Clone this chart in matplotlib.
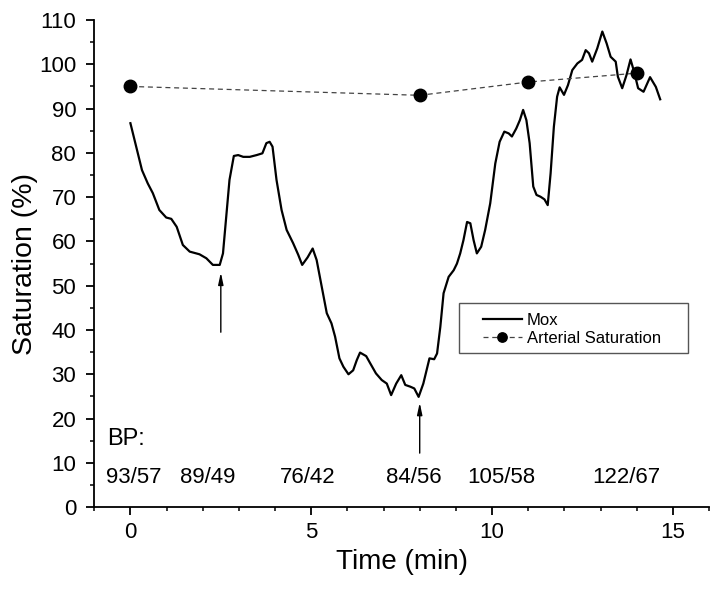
import matplotlib
matplotlib.use('Agg')
import matplotlib.pyplot as plt
from matplotlib.ticker import MultipleLocator
from matplotlib.patches import Rectangle

plt.rcParams['font.family'] = ['Liberation Sans', 'DejaVu Sans']

# Mox trace
mox_t = [0.00, 0.16, 0.32, 0.48, 0.62, 0.80, 0.99, 1.13, 1.28, 1.45, 1.64, 1.91, 2.10, 2.28, 2.47,
         2.56, 2.65, 2.74, 2.86, 2.98, 3.12, 3.30, 3.49, 3.65, 3.76, 3.85, 3.93, 4.04, 4.18, 4.32,
         4.50, 4.64, 4.75, 4.90, 5.04, 5.15, 5.29, 5.43, 5.56, 5.66, 5.78, 5.89, 6.03, 6.16, 6.26,
         6.35, 6.52, 6.63, 6.79, 6.95, 7.09, 7.21, 7.35, 7.49, 7.60, 7.74, 7.85, 7.97, 8.10, 8.27,
         8.40, 8.48, 8.57, 8.66, 8.80, 8.94, 9.03, 9.12, 9.21, 9.31, 9.40, 9.49, 9.58, 9.70, 9.81,
         9.95, 10.09, 10.21, 10.34, 10.46, 10.55, 10.67, 10.77, 10.86, 10.95, 11.04, 11.14, 11.23,
         11.34, 11.45, 11.54, 11.62, 11.71, 11.80, 11.87, 11.99, 12.10, 12.22, 12.36, 12.49, 12.59,
         12.68, 12.77, 12.91, 13.05, 13.17, 13.28, 13.42, 13.48, 13.60, 13.72, 13.83, 13.93, 14.04,
         14.19, 14.37, 14.53, 14.65]
mox_s = [86.7, 81.4, 76.1, 73.1, 70.9, 67.1, 65.4, 65.1, 63.3, 59.2, 57.7, 57.1, 56.2, 54.7, 54.7,
         57.3, 65.6, 73.9, 79.3, 79.5, 79.1, 79.1, 79.5, 79.9, 82.2, 82.5, 81.4, 73.9, 67.1, 62.6,
         59.6, 57.0, 54.7, 56.4, 58.4, 55.8, 49.8, 43.8, 41.5, 38.5, 33.6, 31.7, 30.0, 30.9, 33.2,
         34.9, 34.1, 32.5, 30.2, 28.7, 27.9, 25.3, 27.9, 29.8, 27.6, 27.2, 26.8, 24.9, 27.9, 33.6,
         33.4, 34.7, 40.7, 48.3, 52.0, 53.5, 55.0, 57.3, 60.3, 64.4, 64.1, 60.3, 57.3, 58.8, 62.6,
         68.6, 77.6, 82.5, 84.8, 84.4, 83.7, 85.5, 87.4, 89.7, 87.4, 82.2, 72.4, 70.5,
         70.1, 69.5, 68.2, 75.4, 85.9, 92.7, 94.8, 93.1, 95.3, 98.7, 100.2, 101.0, 103.2,
         102.5, 100.6, 103.6, 107.4, 104.7, 101.7, 100.6, 97.2, 94.6, 97.6, 101.1, 98.3, 94.6,
         93.8, 97.1, 94.9, 92.1]

# arterial saturation samples
art_t = [0, 8, 11, 14]
art_s = [95, 93, 96, 98]

# blood pressure annotations
bp_t = [0.10, 2.15, 4.90, 7.84, 10.27, 13.70]
bp_labels = ['93/57', '89/49', '76/42', '84/56', '105/58', '122/67']

# arrows: (time, tail, head)
arrow_t = [2.5, 8.0]
arrow_tail = [39.5, 12.2]
arrow_head = [53.0, 23.6]

fig = plt.figure(figsize=(7.14, 5.89), dpi=100)
ax = fig.add_axes([0.132, 0.139, 0.861, 0.827])

ax.plot(mox_t, mox_s, color='black', lw=1.6, label='Mox')
ax.plot(art_t, art_s, color='#444444', lw=0.9, ls=(0, (4, 3)), marker='o',
        markersize=9, markerfacecolor='black', markeredgecolor='black',
        label='Arterial Saturation')

for t, a, b in zip(arrow_t, arrow_tail, arrow_head):
    ax.annotate('', xy=(t, b), xytext=(t, a),
                arrowprops=dict(arrowstyle='-|>,head_length=0.7,head_width=0.15',
                                color='black', lw=1.0, shrinkA=0, shrinkB=0))

ax.text(-0.64, 14.0, 'BP:', fontsize=17, ha='left', va='baseline')
for t, lab in zip(bp_t, bp_labels):
    ax.text(t, 5.4, lab, fontsize=16, ha='center', va='baseline')

ax.set_xlim(-1, 16)
ax.set_ylim(0, 110)
ax.xaxis.set_major_locator(MultipleLocator(5))
ax.xaxis.set_minor_locator(MultipleLocator(1))
ax.yaxis.set_major_locator(MultipleLocator(10))
ax.yaxis.set_minor_locator(MultipleLocator(5))
ax.spines['top'].set_visible(False)
ax.spines['right'].set_visible(False)
for s in ['left', 'bottom']:
    ax.spines[s].set_linewidth(1.3)
ax.tick_params(which='major', length=6, width=1.3, labelsize=16)
ax.tick_params(which='minor', length=3, width=1.1)
ax.tick_params(axis='x', pad=5)
ax.tick_params(axis='y', pad=7)

ax.set_xlabel('Time (min)', fontsize=20, labelpad=4)
ax.set_ylabel('Saturation (%)', fontsize=20.5, labelpad=1)

# legend box drawn by hand so its width matches the original
ax.add_patch(Rectangle((0.593, 0.316), 0.373, 0.1035, transform=ax.transAxes,
                       fill=True, facecolor='white', edgecolor='#555555', lw=1.0, zorder=4))
leg = ax.legend(loc='center left', bbox_to_anchor=(0.632, 0.3645), borderaxespad=0,
                frameon=False, fontsize=12, handlelength=2.35, handletextpad=0.3,
                borderpad=0, labelspacing=0.15, markerscale=0.75)
leg.set_zorder(5)

fig.savefig('out.png', dpi=100)
